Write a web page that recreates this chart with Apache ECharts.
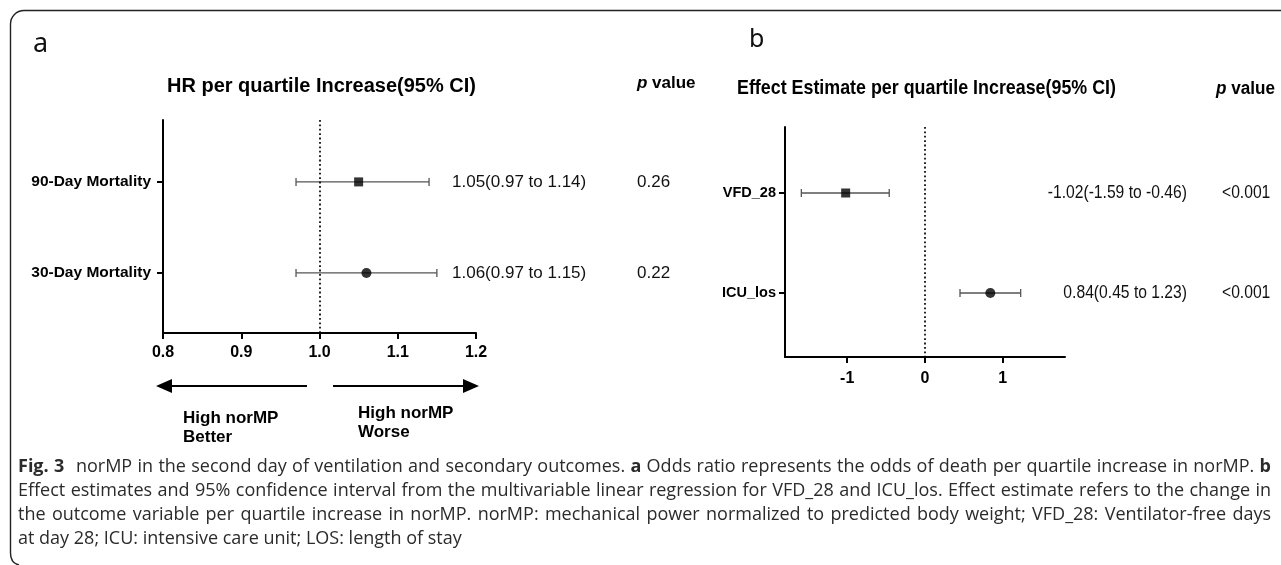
<!DOCTYPE html>
<html>
<head>
<meta charset="utf-8">
<script src="https://cdn.jsdelivr.net/npm/echarts@6/dist/echarts.min.js"></script>
<style>
  html, body { margin: 0; padding: 0; background: #fff; }
  #chart { width: 1281px; height: 565px; }
</style>
</head>
<body>
<div id="chart"></div>
<script>
// panel a: hazard ratio per quartile increase
const outcomesA = ['90-Day Mortality', '30-Day Mortality']
const hrA = [1.05, 1.06]
const lowA = [0.97, 0.97]
const highA = [1.14, 1.15]
const pA = ['0.26', '0.22']
const ticksA = [0.8, 0.9, 1.0, 1.1, 1.2]
const refA = 1.0

// panel b: effect estimate per quartile increase
const outcomesB = ['VFD_28', 'ICU_los']
const estB = [-1.02, 0.84]
const lowB = [-1.59, 0.45]
const highB = [-0.46, 1.23]
const pB = ['<0.001', '<0.001']
const ticksB = [-1, 0, 1]
const refB = 0

const markers = ['rect', 'circle']
const markerSize = [9, 10]
const rows = [1, 2]

// figure caption, one entry per printed line (last line not justified)
const captionLines = [
  'Fig. 3  norMP in the second day of ventilation and secondary outcomes. a Odds ratio represents the odds of death per quartile increase in norMP. b',
  'Effect estimates and 95% confidence interval from the multivariable linear regression for VFD_28 and ICU_los. Effect estimate refers to the change in',
  'the outcome variable per quartile increase in norMP. norMP: mechanical power normalized to predicted body weight; VFD_28: Ventilator-free days',
  'at day 28; ICU: intensive care unit; LOS: length of stay'
]
const captionBold = [['Fig.', '3', 'a', 'b'], [], [], []]

const fontA = '"Liberation Sans", Arial, sans-serif'
const fontB = '"Liberation Sans", Arial, sans-serif'
const capFont = '"Open Sans", "Noto Sans", sans-serif'
const capSize = 18

function errorBars(low, high, est, pvals, textX, textAlign, pX, size, sx) {
  return function(params, api) {
    const i = params.dataIndex
    const a = api.coord([api.value(0), api.value(2)])
    const b = api.coord([api.value(1), api.value(2)])
    const y = a[1]
    const txt = est[i].toFixed(2) + '(' + low[i].toFixed(2) + ' to ' + high[i].toFixed(2) + ')'
    const line = { stroke: '#555', lineWidth: 1.3 }
    return {
      type: 'group',
      children: [
        { type: 'line', shape: { x1: a[0], y1: y, x2: b[0], y2: y }, style: line },
        { type: 'line', shape: { x1: a[0], y1: y - 4, x2: a[0], y2: y + 4 }, style: line },
        { type: 'line', shape: { x1: b[0], y1: y - 4, x2: b[0], y2: y + 4 }, style: line },
        { type: 'text', x: textX, y: y, scaleX: sx, style: { text: txt, x: 0, y: 0, align: textAlign, verticalAlign: 'middle', fill: '#111', font: size + 'px ' + fontA } },
        { type: 'text', x: pX, y: y, scaleX: sx, style: { text: pvals[i], x: 0, y: 0, align: 'left', verticalAlign: 'middle', fill: '#111', font: size + 'px ' + fontA } }
      ]
    }
  }
}

function axisStyle(font, size) {
  return {
    axisLine: { show: true, onZero: false, lineStyle: { color: '#000', width: 2 } },
    axisTick: { show: true, length: 6, lineStyle: { color: '#000', width: 2 } },
    axisLabel: { color: '#000', fontWeight: 'bold', fontSize: size, fontFamily: font, margin: 12 },
    splitLine: { show: false }
  }
}

function mk(base, extra) {
  const o = JSON.parse(JSON.stringify(base))
  for (const k in extra) {
    if (typeof extra[k] === 'object' && o[k]) Object.assign(o[k], extra[k])
    else o[k] = extra[k]
  }
  return o
}

// lay out the caption word by word so lines are justified like the print
const measureCtx = document.createElement('canvas').getContext('2d')
function wordWidth(w, bold) {
  measureCtx.font = (bold ? 'bold ' : '') + capSize + 'px ' + capFont
  return measureCtx.measureText(w).width
}
function captionGraphics(x0, x1, y0, lineGap) {
  const out = []
  captionLines.forEach((line, li) => {
    const words = line.split(/ +/)
    const bolds = words.map(w => captionBold[li].indexOf(w) >= 0)
    const widths = words.map((w, i) => wordWidth(w, bolds[i]))
    // "Fig. 3" is followed by a wider gap
    const weights = words.slice(1).map((w, i) => (words[i] === '3' && bolds[i]) ? 2.2 : 1)
    const total = widths.reduce((s, v) => s + v, 0)
    const wsum = weights.reduce((s, v) => s + v, 0)
    const last = li === captionLines.length - 1
    const gap = last ? wordWidth(' ', false) : (x1 - x0 - total) / wsum
    let x = x0
    words.forEach((w, i) => {
      out.push({
        type: 'text', silent: true, x: x, y: y0 + li * lineGap,
        style: { text: w, x: 0, y: 0, verticalAlign: 'middle', fill: '#2b2b2b', font: (bolds[i] ? 'bold ' : '') + capSize + 'px ' + capFont }
      })
      x += widths[i] + (i < weights.length ? gap * weights[i] : 0)
    })
  })
  return out
}

const chart = echarts.init(document.getElementById('chart'))

const sA = axisStyle(fontA, 16)
const sB = axisStyle(fontB, 16)
const frame = { stroke: '#222', lineWidth: 1.4, fill: 'none' }

const option = {
  backgroundColor: '#fff',
  animation: false,
  grid: [
    { left: 163, top: 120, width: 313, height: 213 },
    { left: 785, top: 127, width: 280, height: 230 }
  ],
  xAxis: [
    mk(sA, {
      gridIndex: 0, type: 'value', min: 0.8, max: 1.2,
      axisTick: { customValues: ticksA },
      axisLabel: { customValues: ticksA, formatter: v => v.toFixed(1) }
    }),
    mk(sB, {
      gridIndex: 1, type: 'value', min: -1.8, max: 1.8,
      axisTick: { customValues: ticksB },
      axisLabel: { customValues: ticksB, margin: 14, formatter: v => String(v) }
    })
  ],
  yAxis: [
    mk(sA, {
      gridIndex: 0, type: 'value', inverse: true, min: 0.32, max: 2.66,
      axisTick: { customValues: rows },
      axisLabel: { customValues: rows, margin: 12, fontSize: 15.5, formatter: v => outcomesA[Math.round(v) - 1] }
    }),
    mk(sB, {
      gridIndex: 1, type: 'value', inverse: true, min: 0.34, max: 2.64,
      axisTick: { customValues: rows },
      axisLabel: { customValues: rows, margin: 9, fontSize: 14.5, formatter: v => outcomesB[Math.round(v) - 1] }
    })
  ],
  series: [
    {
      type: 'custom', xAxisIndex: 0, yAxisIndex: 0, clip: false, silent: true,
      data: rows.map((r, i) => [lowA[i], highA[i], r]),
      renderItem: errorBars(lowA, highA, hrA, pA, 452, 'left', 637, 17, 1)
    },
    {
      type: 'custom', xAxisIndex: 1, yAxisIndex: 1, clip: false, silent: true,
      data: rows.map((r, i) => [lowB[i], highB[i], r]),
      renderItem: errorBars(lowB, highB, estB, pB, 1187, 'right', 1222, 18, 0.87)
    },
    {
      type: 'scatter', xAxisIndex: 0, yAxisIndex: 0, silent: true,
      data: rows.map((r, i) => ({ value: [hrA[i], r], symbol: markers[i], symbolSize: markerSize[i] })),
      itemStyle: { color: '#000' },
      markLine: {
        silent: true, symbol: 'none', label: { show: false },
        lineStyle: { color: '#000', type: [1.8, 2.6], width: 1.7 },
        data: [{ xAxis: refA }]
      }
    },
    {
      type: 'scatter', xAxisIndex: 1, yAxisIndex: 1, silent: true,
      data: rows.map((r, i) => ({ value: [estB[i], r], symbol: markers[i], symbolSize: markerSize[i] })),
      itemStyle: { color: '#000' },
      markLine: {
        silent: true, symbol: 'none', label: { show: false },
        lineStyle: { color: '#000', type: [1.8, 2.6], width: 1.7 },
        data: [{ xAxis: refB }]
      }
    }
  ],
  graphic: [
    // figure frame (top and left edge)
    { type: 'line', silent: true, shape: { x1: 24, y1: 10.5, x2: 1281, y2: 10.5 }, style: frame },
    { type: 'arc', silent: true, shape: { cx: 24, cy: 24, r: 13.5, startAngle: Math.PI, endAngle: Math.PI * 1.5 }, style: frame },
    { type: 'line', silent: true, shape: { x1: 10.5, y1: 24, x2: 10.5, y2: 553 }, style: frame },
    { type: 'bezierCurve', silent: true, shape: { x1: 10.5, y1: 553, cpx1: 10.5, cpy1: 563, x2: 19, y2: 565 }, style: frame },
    { type: 'text', left: 33, top: 31, style: { text: 'a', font: '27px "Noto Sans", sans-serif', fill: '#111' } },
    { type: 'text', left: 167, top: 76, style: { text: 'HR per quartile Increase(95% CI)', font: 'bold 20px ' + fontA, fill: '#000' } },
    {
      type: 'text', left: 637, top: 75,
      style: {
        text: '{i|p} value', font: 'bold 17px ' + fontA, fill: '#000',
        rich: { i: { fontStyle: 'italic', fontWeight: 'bold', fontSize: 17, fontFamily: fontA } }
      }
    },
    // arrows under panel a
    { type: 'line', shape: { x1: 170, y1: 386, x2: 307, y2: 386 }, style: { stroke: '#000', lineWidth: 2 } },
    { type: 'polygon', shape: { points: [[156, 386], [172, 379], [172, 393]] }, style: { fill: '#000' } },
    { type: 'line', shape: { x1: 333, y1: 386, x2: 465, y2: 386 }, style: { stroke: '#000', lineWidth: 2 } },
    { type: 'polygon', shape: { points: [[479, 386], [463, 379], [463, 393]] }, style: { fill: '#000' } },
    { type: 'text', left: 183, top: 409, style: { text: 'High norMP\nBetter', font: 'bold 17px ' + fontA, lineHeight: 19, fill: '#000' } },
    { type: 'text', left: 358, top: 404, style: { text: 'High norMP\nWorse', font: 'bold 17px ' + fontA, lineHeight: 19, fill: '#000' } },
    // panel b headings
    { type: 'text', left: 749, top: 27, style: { text: 'b', font: '25px "Noto Sans", sans-serif', fill: '#111' } },
    { type: 'text', left: 737, top: 78, scaleX: 0.85, style: { text: 'Effect Estimate per quartile Increase(95% CI)', font: 'bold 21px ' + fontB, fill: '#000' } },
    {
      type: 'text', left: 1216, top: 80, scaleX: 0.95,
      style: {
        text: '{i|p} value', font: 'bold 18px ' + fontB, fill: '#000',
        rich: { i: { fontStyle: 'italic', fontWeight: 'bold', fontSize: 18, fontFamily: fontB } }
      }
    }
  ].concat(captionGraphics(18, 1271, 467, 24))
}

chart.setOption(option)
</script>
</body>
</html>
